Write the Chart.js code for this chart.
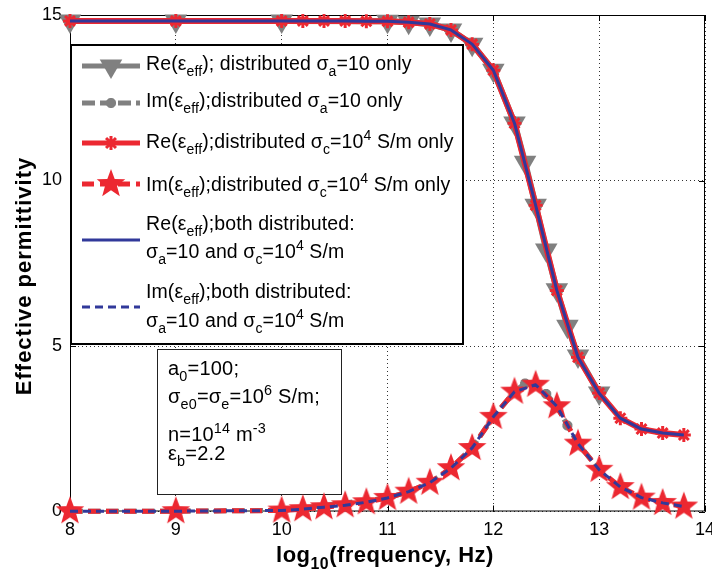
<!DOCTYPE html>
<html>
<head>
<meta charset="utf-8">
<script src="https://cdn.jsdelivr.net/npm/chart.js@4/dist/chart.umd.min.js"></script>
<style>
  html, body { margin: 0; padding: 0; background: #ffffff; }
  #wrap { width: 712px; height: 576px; }
</style>
</head>
<body>
<div id="wrap"><canvas id="c" width="712" height="576"></canvas></div>
<script>
// log10 of frequency (Hz) for the sampled points
const freqFine = [8, 9, 10, 10.2, 10.4, 10.6, 10.8, 11, 11.2, 11.4, 11.6, 11.8, 12, 12.2, 12.4, 12.6, 12.8, 13, 13.2, 13.4, 13.6, 13.8];
const freqA = [8, 9, 10, 11, 11.2, 11.4, 11.6, 11.8, 12, 12.2, 12.3, 12.4, 12.5, 12.6, 12.7, 12.8, 13];

// distributed sigma_a = 10 only
const reA = [14.82, 14.82, 14.82, 14.81, 14.78, 14.73, 14.55, 14.12, 13.33, 11.74, 10.55, 9.25, 7.9, 6.7, 5.6, 4.7, 3.58];
const imA = [0.01, 0.01, 0.03, 0.41, 0.6, 0.87, 1.31, 1.93, 2.86, 3.62, 3.87, 3.83, 3.55, 3.18, 2.6, 2.05, 1.27];

// distributed sigma_c = 1e4 S/m only
const reC = [14.82, 14.82, 14.82, 14.82, 14.82, 14.82, 14.81, 14.81, 14.78, 14.73, 14.55, 14.12, 13.33, 11.73, 9.25, 6.68, 4.66, 3.58, 2.82, 2.49, 2.37, 2.31];
const imC = [0.01, 0.01, 0.03, 0.07, 0.13, 0.19, 0.28, 0.41, 0.6, 0.87, 1.31, 1.92, 2.86, 3.62, 3.83, 3.18, 2.05, 1.26, 0.74, 0.42, 0.26, 0.15];

// both distributed
const reBoth = [14.82, 14.82, 14.82, 14.82, 14.82, 14.82, 14.81, 14.81, 14.78, 14.73, 14.55, 14.12, 13.33, 11.73, 9.25, 6.68, 4.66, 3.57, 2.82, 2.49, 2.37, 2.31];
const imBoth = [0.01, 0.01, 0.03, 0.07, 0.13, 0.19, 0.28, 0.41, 0.6, 0.87, 1.31, 1.92, 2.86, 3.62, 3.83, 3.18, 2.05, 1.26, 0.74, 0.42, 0.26, 0.15];

const xTicks = [8, 9, 10, 11, 12, 13, 14];
const yTicks = [0, 5, 10, 15];

const legendText = [
  ['Re(ε_{eff}); distributed σ_{a}=10 only'],
  ['Im(ε_{eff});distributed σ_{a}=10 only'],
  ['Re(ε_{eff});distributed σ_{c}=10^{4} S/m only'],
  ['Im(ε_{eff});distributed σ_{c}=10^{4} S/m only'],
  ['Re(ε_{eff});both distributed:', 'σ_{a}=10 and σ_{c}=10^{4} S/m'],
  ['Im(ε_{eff});both distributed:', 'σ_{a}=10 and σ_{c}=10^{4} S/m']
];
const noteText = ['a_{0}=100;', 'σ_{e0}=σ_{e}=10^{6} S/m;', 'n=10^{14} m^{-3}', 'ε_{b}=2.2'];
const xTitle = 'log_{10}(frequency, Hz)';
const yTitle = 'Effective permittivity';

const GRAY = '#808080', RED = '#ec2831', BLUE = '#31399a';
const FONT = '"Liberation Sans", Arial, Helvetica, sans-serif';

// filled five-point star used as a point marker
function makePentagram(R, inner, color) {
  const size = Math.ceil(2 * R + 2);
  const cv = document.createElement('canvas');
  cv.width = size; cv.height = size;
  const g = cv.getContext('2d');
  g.fillStyle = color;
  g.beginPath();
  for (let i = 0; i < 10; i++) {
    const a = -Math.PI / 2 + i * Math.PI / 5;
    const rr = (i % 2) ? R * inner : R;
    g.lineTo(size / 2 + rr * Math.cos(a), size / 2 + rr * Math.sin(a));
  }
  g.closePath();
  g.fill();
  return cv;
}
const star5 = makePentagram(15, 0.42, RED);

const pts = (xs, ys) => xs.map((x, i) => ({ x: x, y: ys[i] }));

const datasets = [
  { label: 'Re distributed sigma_a', data: pts(freqA, reA), borderColor: GRAY, backgroundColor: GRAY,
    borderWidth: 6, pointStyle: 'triangle', rotation: 180, pointRadius: 13, pointBorderWidth: 0, order: 6 },
  { label: 'Im distributed sigma_a', data: pts(freqA, imA), borderColor: GRAY, backgroundColor: GRAY,
    borderWidth: 5, borderDash: [13, 5], pointStyle: 'star', pointRadius: 5, pointBorderWidth: 3.5, order: 5 },
  { label: 'Re distributed sigma_c', data: pts(freqFine, reC), borderColor: RED, backgroundColor: RED,
    borderWidth: 6, pointStyle: 'star', pointRadius: 7, pointBorderWidth: 3, order: 4 },
  { label: 'Im distributed sigma_c', data: pts(freqFine, imC), borderColor: RED, backgroundColor: RED,
    borderWidth: 5, borderDash: [12, 6], pointStyle: star5, pointRadius: 15, order: 3 },
  { label: 'Re both distributed', data: pts(freqFine, reBoth), borderColor: BLUE, backgroundColor: BLUE,
    borderWidth: 3, pointRadius: 0, order: 2 },
  { label: 'Im both distributed', data: pts(freqFine, imBoth), borderColor: BLUE, backgroundColor: BLUE,
    borderWidth: 3, borderDash: [8, 5], pointRadius: 0, order: 1 }
];
datasets.forEach(d => { d.clip = false; d.tension = 0; d.borderJoinStyle = 'round'; d.pointHoverRadius = d.pointRadius; });

// text with _{sub} and ^{sup} runs
function parseRich(s) {
  const runs = [];
  const re = /([_^])\{([^}]*)\}|([^_^]+)/g;
  let m;
  while ((m = re.exec(s))) {
    if (m[3]) runs.push({ t: m[3] });
    else runs.push({ t: m[2], sub: m[1] === '_', sup: m[1] === '^' });
  }
  return runs;
}
function setFont(ctx, weight, fs, spacing) {
  ctx.font = weight + ' ' + fs + 'px ' + FONT;
  ctx.letterSpacing = (spacing || 0) + 'px';
}
function richWidth(ctx, s, size, weight, spacing) {
  let w = 0;
  parseRich(s).forEach(r => {
    setFont(ctx, weight, (r.sub || r.sup) ? size * 0.72 : size, spacing);
    w += ctx.measureText(r.t).width;
  });
  return w;
}
function drawRich(ctx, x, y, s, size, weight, align, spacing) {
  weight = weight || 'normal';
  if (align === 'center') x -= richWidth(ctx, s, size, weight, spacing) / 2;
  ctx.textAlign = 'left';
  ctx.textBaseline = 'alphabetic';
  parseRich(s).forEach(r => {
    const small = r.sub || r.sup;
    const dy = r.sub ? size * 0.32 : (r.sup ? -size * 0.42 : 0);
    setFont(ctx, weight, small ? size * 0.72 : size, spacing);
    ctx.fillText(r.t, x, y + dy);
    x += ctx.measureText(r.t).width;
  });
  ctx.letterSpacing = '0px';
}

const decor = {
  id: 'decor',
  beforeDatasetsDraw(chart) {
    const ctx = chart.ctx;
    const a = chart.chartArea;
    const xs = chart.scales.x, ys = chart.scales.y;
    ctx.save();
    // axes box with inward ticks
    ctx.strokeStyle = '#000';
    ctx.lineWidth = 1;
    ctx.setLineDash([]);
    ctx.strokeRect(a.left + 0.5, a.top + 0.5, a.right - a.left - 1, a.bottom - a.top - 1);
    ctx.beginPath();
    xTicks.forEach(v => {
      const px = Math.round(xs.getPixelForValue(v)) + 0.5;
      ctx.moveTo(px, a.bottom); ctx.lineTo(px, a.bottom - 6);
      ctx.moveTo(px, a.top); ctx.lineTo(px, a.top + 6);
    });
    yTicks.forEach(v => {
      const py = Math.round(ys.getPixelForValue(v)) + 0.5;
      ctx.moveTo(a.left, py); ctx.lineTo(a.left + 6, py);
      ctx.moveTo(a.right, py); ctx.lineTo(a.right - 6, py);
    });
    ctx.stroke();

    // legend box
    ctx.fillStyle = '#fff';
    ctx.fillRect(70, 44, 393, 300);
    ctx.lineWidth = 2;
    ctx.strokeStyle = '#000';
    ctx.strokeRect(71, 45, 392, 299);
    const rows = [
      { line: 66, base: [70] },
      { line: 103, base: [107] },
      { line: 143, base: [148] },
      { line: 184, base: [191] },
      { line: 240, base: [230, 258] },
      { line: 307, base: [298, 327] }
    ];
    rows.forEach((row, i) => {
      const ds = chart.data.datasets[i];
      ctx.save();
      ctx.strokeStyle = ds.borderColor;
      ctx.lineWidth = Math.min(ds.borderWidth, 5);
      ctx.setLineDash(ds.borderDash || []);
      ctx.beginPath();
      ctx.moveTo(82, row.line); ctx.lineTo(140, row.line);
      ctx.stroke();
      ctx.setLineDash([]);
      if (ds.pointRadius > 0) {
        ctx.fillStyle = ds.backgroundColor;
        ctx.strokeStyle = ds.borderColor;
        ctx.lineWidth = ds.pointBorderWidth || 0;
        Chart.helpers.drawPoint(ctx, {
          pointStyle: ds.pointStyle, rotation: ds.rotation || 0,
          radius: ds.pointRadius, borderWidth: ds.pointBorderWidth || 0
        }, 111, row.line);
      }
      ctx.restore();
      ctx.fillStyle = '#000';
      legendText[i].forEach((t, j) => drawRich(ctx, 146, row.base[j], t, 19.5, 'normal', 'left', 0.1));
    });

    // parameter note box
    ctx.fillStyle = '#fff';
    ctx.fillRect(157, 349, 184, 145);
    ctx.lineWidth = 1;
    ctx.strokeStyle = '#222';
    ctx.strokeRect(157.5, 349.5, 184, 145);
    ctx.fillStyle = '#000';
    const noteBase = [375, 403, 441, 460];
    noteText.forEach((t, i) => drawRich(ctx, 168, noteBase[i], t, 20, 'normal', 'left', 0.2));

    // axis titles
    drawRich(ctx, 385, 562, xTitle, 22, 'bold', 'center', 0.5);
    ctx.save();
    ctx.translate(31, 276);
    ctx.rotate(-Math.PI / 2);
    drawRich(ctx, 0, 0, yTitle, 22, 'bold', 'center', 1);
    ctx.restore();
    ctx.restore();
  }
};

new Chart(document.getElementById('c'), {
  type: 'line',
  data: { datasets: datasets },
  plugins: [decor],
  options: {
    responsive: false,
    animation: false,
    events: [],
    layout: { autoPadding: false, padding: { top: 15, right: 7, left: 0, bottom: 0 } },
    plugins: { legend: { display: false }, tooltip: { enabled: false } },
    scales: {
      x: {
        type: 'linear', min: 8, max: 14,
        afterBuildTicks: s => { s.ticks = xTicks.map(v => ({ value: v })); },
        afterFit: s => { s.height = 64.5; s.paddingLeft = 0; s.paddingRight = 0; },
        grid: { color: '#333', lineWidth: 1, drawTicks: false },
        border: { display: false, dash: [1, 3] },
        ticks: { color: '#000', padding: 8, autoSkip: false, maxRotation: 0,
                 font: { family: FONT, size: 18 }, callback: v => String(v) }
      },
      y: {
        type: 'linear', min: 0, max: 15,
        afterBuildTicks: s => { s.ticks = yTicks.map(v => ({ value: v })); },
        afterFit: s => { s.width = 70; s.paddingTop = 0; s.paddingBottom = 0; },
        grid: { color: '#333', lineWidth: 1, drawTicks: false },
        border: { display: false, dash: [1, 3] },
        ticks: { color: '#000', padding: 8, font: { family: FONT, size: 18 }, callback: v => String(v) }
      }
    }
  }
});
</script>
</body>
</html>
